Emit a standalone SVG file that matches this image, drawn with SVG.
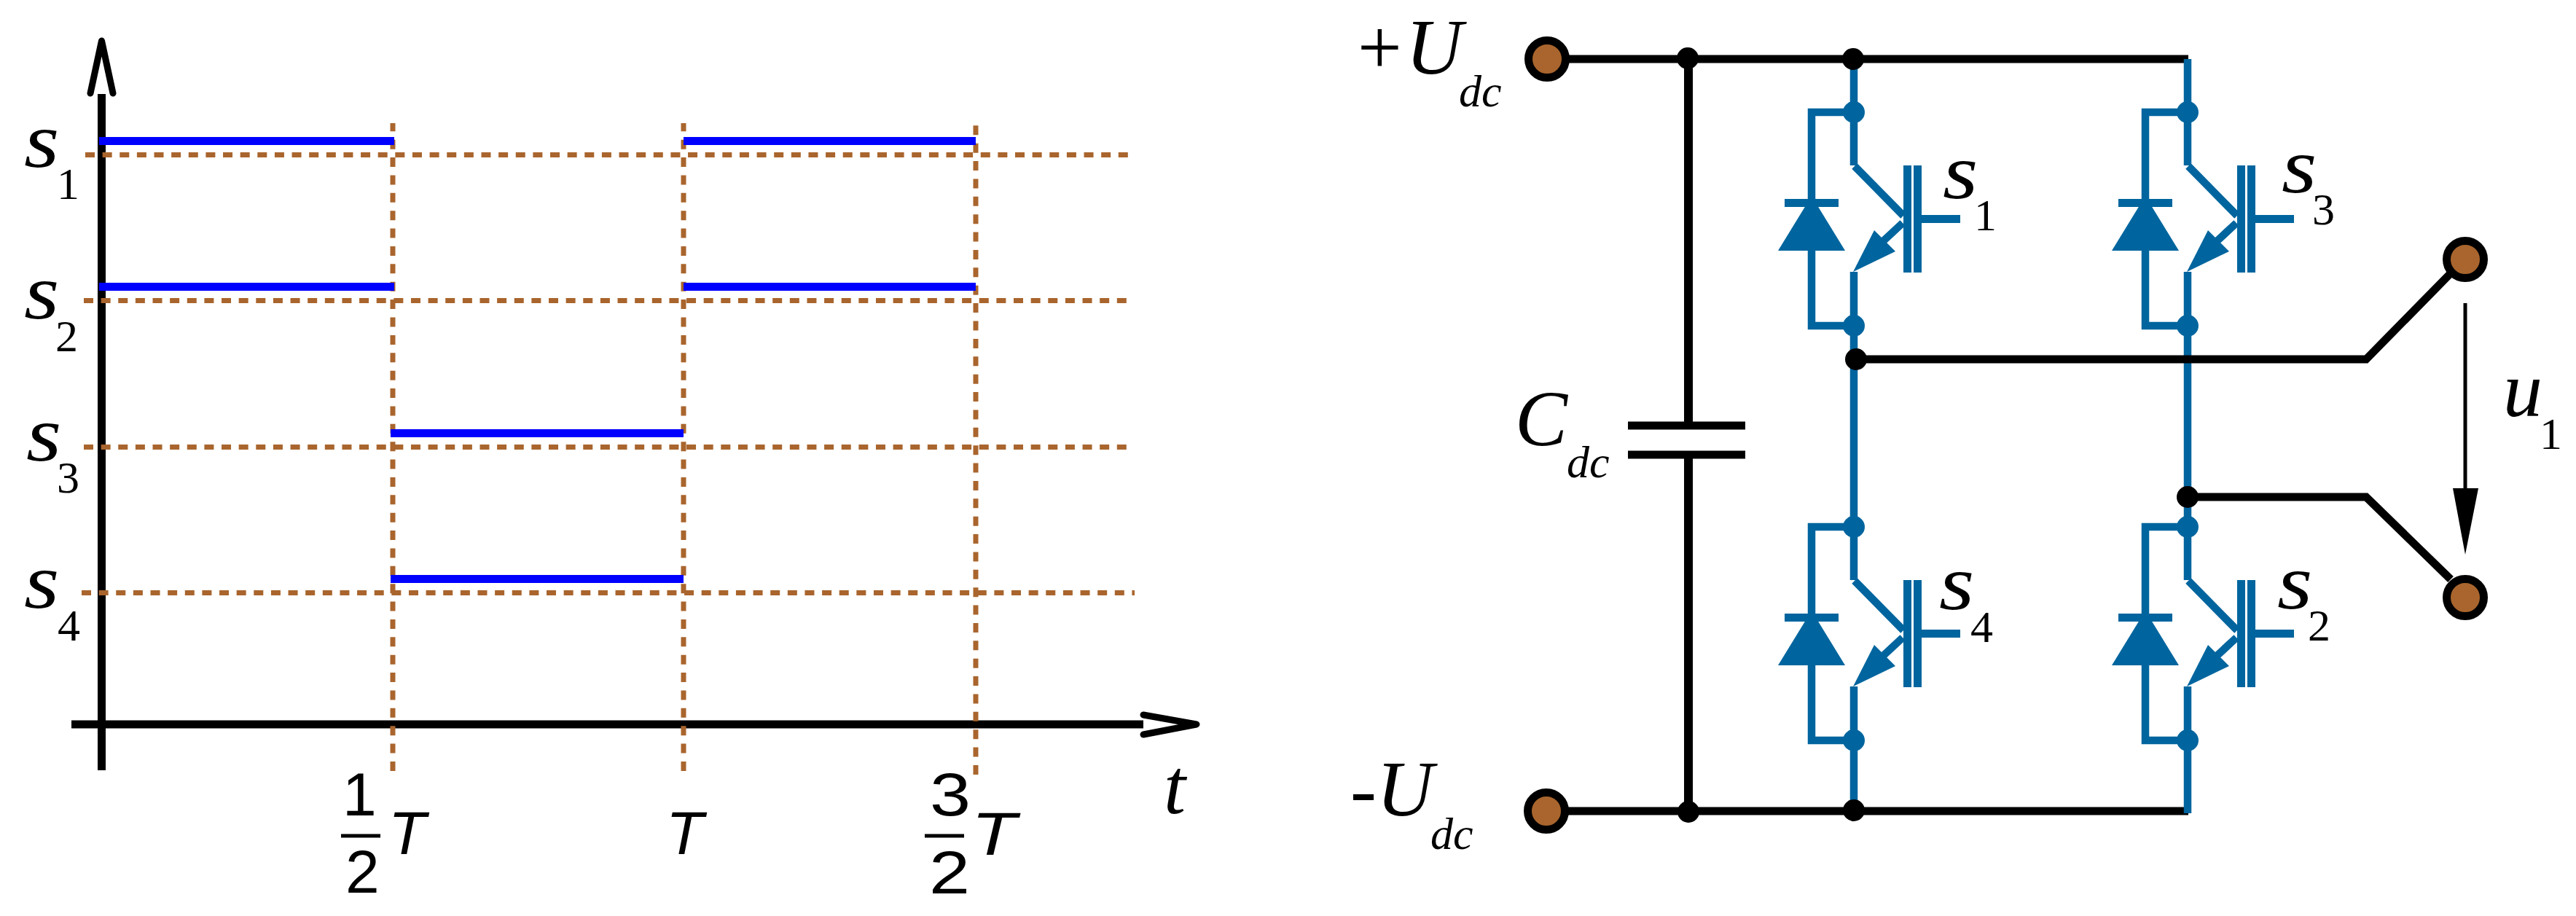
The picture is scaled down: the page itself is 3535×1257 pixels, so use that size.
<svg xmlns="http://www.w3.org/2000/svg" width="3535" height="1257" viewBox="0 0 3535 1257">
<style>
.si{font-family:"Liberation Serif","Times New Roman",serif;font-style:italic;fill:#000}
.big{font-size:108px}
.sub{font-family:"Liberation Serif","Times New Roman",serif;font-size:62px;fill:#000}
.subi{font-family:"Liberation Serif","Times New Roman",serif;font-style:italic;font-size:62px;fill:#000}
.sans{font-family:"Liberation Sans",Arial,sans-serif;font-size:84px;fill:#000}
.sansi{font-family:"Liberation Sans",Arial,sans-serif;font-style:italic;font-size:84px;fill:#000}
.axis{stroke:#000;stroke-width:11;fill:none}
.head{stroke:#000;stroke-width:9;fill:none;stroke-linecap:round;stroke-linejoin:round}
.dh{stroke:#A9652D;stroke-width:7;stroke-dasharray:13 10.63;fill:none}
.dv{stroke:#A9652D;stroke-width:7;stroke-dasharray:13 11.38;fill:none}
.pulse{stroke:#0000FF;stroke-width:11;fill:none}
.wire{stroke:#000;stroke-width:11;fill:none}
.bw{stroke:#00659E;stroke-width:10.5;fill:none}
.bf{fill:#00659E}
.term{fill:#A9652D;stroke:#000;stroke-width:11}
.dot{fill:#000}
</style>
<defs>
<g id="igbt">
<path class="bw" d="M2544 154V227M2545 228L2612 296M2611 306L2583 332M2544 373V447"/>
<path class="bw" d="M2544 154H2486V278M2486 344V447H2544"/>
<rect class="bf" x="2449" y="273" width="74" height="11"/>
<polygon class="bf" points="2486,269 2532,344 2440,344"/>
<polygon class="bf" points="2543,373 2572,316 2601,345"/>
<rect class="bf" x="2612" y="227" width="11" height="147"/>
<rect class="bf" x="2626" y="227" width="11" height="147"/>
<rect class="bf" x="2637" y="295" width="53" height="11"/>
<circle class="bf" cx="2544" cy="154" r="15"/>
<circle class="bf" cx="2544" cy="447" r="15"/>
</g>
</defs>
<rect width="3535" height="1257" fill="#fff"/>

<g id="chart">
<g id="chart-axes">
<path class="axis" d="M139.500 1057V129M98 994H1569"/>
<path class="head" d="M124 128L139.500 56L155 128M1569 981L1642 994L1569 1008"/>
</g>
<g id="chart-grid">
<path class="dh" d="M117 212.500H1549"/>
<path class="dh" d="M115 412.500H1549"/>
<path class="dh" d="M115 613.500H1549"/>
<path class="dh" d="M112 813.500H1557"/>
<path class="dv" d="M539 1058V169"/>
<path class="dv" d="M938 1058V169"/>
<path class="dv" d="M1339 1063V169"/>
</g>
<g id="chart-pulses">
<path class="pulse" d="M136 193.500H541M938 193.500H1339"/>
<path class="pulse" d="M136 393.500H541M938 393.500H1339"/>
<path class="pulse" d="M536 594.500H938"/>
<path class="pulse" d="M536 794.500H938"/>
</g>
<g id="chart-labels">
<text class="si big" transform="translate(33 229) scale(1.15 1)">s</text><text class="sub" x="78" y="273">1</text>
<text class="si big" transform="translate(33 437) scale(1.15 1)">s</text><text class="sub" x="76" y="482">2</text>
<text class="si big" transform="translate(36 632) scale(1.15 1)">s</text><text class="sub" x="78" y="676">3</text>
<text class="si big" transform="translate(33 834) scale(1.15 1)">s</text><text class="sub" x="79" y="879">4</text>
<text class="sans" x="470" y="1119">1</text>
<rect x="468" y="1144.500" width="54" height="5"/>
<text class="sans" x="474" y="1225">2</text>
<text class="sansi" x="533" y="1172">T</text>
<text class="sansi" x="914" y="1172">T</text>
<text class="sans" transform="translate(1276 1119) scale(1.2 1)">3</text>
<rect x="1269" y="1144.500" width="54" height="5"/>
<text class="sans" transform="translate(1275 1226) scale(1.2 1)">2</text>
<text class="sansi" transform="translate(1333 1173) scale(1.2 1)">T</text>
<text class="si big" x="1597" y="1116">t</text>
</g>
</g>

<g id="connectors">
<path class="bw" d="M2544 81V154M2544 447V723M2544 1016V1112"/>
<path class="bw" d="M3002 447V724"/>
<path class="wire" d="M2123 81H3003"/>
<path class="wire" d="M2122 1113H3003"/>
<path class="wire" style="stroke-width:12" d="M2317 80V584M2317 624V1113"/>
<path class="wire" d="M2544 493H3247L3362 376"/>
<path class="wire" d="M3002 682H3247L3363 795"/>
<path class="bw" d="M3002 81V154M3002 1016V1116"/>
<rect x="2234" y="578.500" width="161" height="11"/>
<rect x="2234" y="618.500" width="161" height="11"/>
<circle class="dot" cx="2316" cy="80" r="15"/>
<circle class="dot" cx="2543" cy="81" r="15"/>
<circle class="dot" cx="2547" cy="493" r="15"/>
<circle class="dot" cx="3002" cy="682" r="15"/>
<circle class="dot" cx="2317" cy="1114" r="15"/>
<circle class="dot" cx="2544" cy="1112" r="15"/>
<rect x="3380.500" y="416" width="5" height="256"/>
<polygon points="3366,670 3401,670 3383,761"/>
</g>

<g id="terminal-pos"><circle class="term" cx="2123" cy="81" r="25.500"/></g>
<g id="terminal-neg"><circle class="term" cx="2122" cy="1113" r="25.500"/></g>
<g id="terminal-out1"><circle class="term" cx="3383" cy="356" r="25.500"/></g>
<g id="terminal-out2"><circle class="term" cx="3383" cy="820" r="25.500"/></g>

<g id="label-pos"><text class="si big" x="1856" y="101">+U</text><text class="subi" x="2002" y="146">dc</text></g>
<g id="label-neg"><text class="si big" x="1853" y="1119">-U</text><text class="subi" x="1963" y="1165">dc</text></g>
<g id="capacitor"><text class="si big" x="2079" y="611">C</text><text class="subi" x="2150" y="655">dc</text></g>
<g id="label-u1"><text class="si big" x="3435" y="571">u</text><text class="sub" x="3485" y="616">1</text></g>

<g id="switch-s1"><use href="#igbt"/><text class="si big" transform="translate(2666 272) scale(1.15 1)">s</text><text class="sub" x="2709" y="316">1</text></g>
<g id="switch-s3"><use href="#igbt" x="458"/><text class="si big" transform="translate(3131 264) scale(1.15 1)">s</text><text class="sub" x="3173" y="308">3</text></g>
<g id="switch-s4"><use href="#igbt" y="569"/><text class="si big" transform="translate(2661 836) scale(1.15 1)">s</text><text class="sub" x="2704" y="881">4</text></g>
<g id="switch-s2"><use href="#igbt" x="458" y="569"/><text class="si big" transform="translate(3125 835) scale(1.15 1)">s</text><text class="sub" x="3167" y="879">2</text></g>
</svg>
